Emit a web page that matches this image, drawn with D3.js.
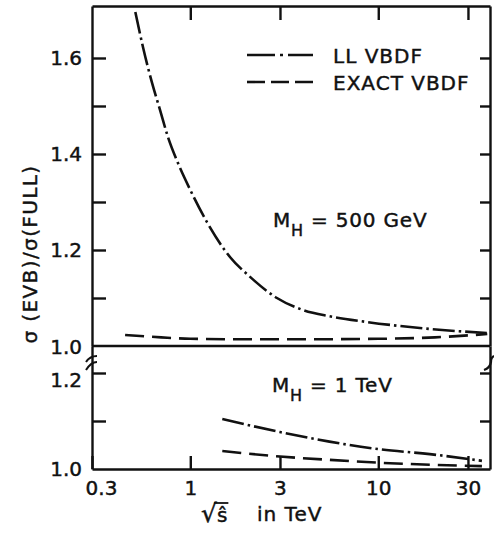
<!DOCTYPE html>
<html>
<head>
<meta charset="utf-8">
<script src="https://cdn.jsdelivr.net/npm/d3@7"></script>
<style>
  body { margin:0; background:#fff; }
  svg text { font-family:"DejaVu Sans", sans-serif; fill:#111; stroke:#111; stroke-width:0.45px; }
</style>
</head>
<body>
<div id="chart"></div>
<script>
// Datos (sqrt(s) en TeV, cociente sigma(EVB)/sigma(FULL))
const llUpperX    = [0.51, 0.56, 0.626, 0.69, 0.761, 0.86, 1.0, 1.227, 1.63, 2.08, 2.89, 3.98, 5.5, 8.7, 19.5, 37.8];
const llUpperY    = [1.696, 1.623, 1.548, 1.492, 1.435, 1.381, 1.325, 1.258, 1.185, 1.144, 1.10, 1.075, 1.062, 1.050, 1.035, 1.027];
const exactUpperX = [0.45, 0.7, 1.0, 2.0, 4.0, 10, 20, 38];
const exactUpperY = [1.023, 1.018, 1.015, 1.014, 1.014, 1.015, 1.018, 1.025];
const llLowerX    = [1.48, 3.0, 5.5, 10.2, 18.8, 35.6];
const llLowerY    = [1.104, 1.077, 1.057, 1.041, 1.031, 1.017];
const exactLowerX = [1.48, 3.0, 5.5, 10.2, 18.8, 35.6];
const exactLowerY = [1.0375, 1.026, 1.019, 1.013, 1.009, 1.006];

const xTickValues = [0.3, 1, 3, 10, 30];
const xTickLabels = ['0.3', '1', '3', '10', '30'];
const upperTicks  = [1.1, 1.2, 1.3, 1.4, 1.5, 1.6];
const upperLabels = [1.2, 1.4, 1.6];
const lowerTicks  = [1.1, 1.2];
const lowerLabels = [1.2];

const width = 494, height = 536;
const svg = d3.select('#chart').append('svg')
  .attr('width', width).attr('height', height);

// Escalas
const x = d3.scaleLog().domain([0.3, 39.3]).range([92, 490]);
const yUp = d3.scaleLinear().domain([1.0, 1.7083]).range([346, 6]);
const yLo = d3.scaleLinear().domain([1.0, 1.25625]).range([469, 346]);

const AXW = 2.4;
function styleAxis(g){
  g.selectAll('path.domain').attr('stroke', '#111').attr('stroke-width', AXW);
  g.selectAll('.tick line').attr('stroke', '#111').attr('stroke-width', AXW);
  g.selectAll('.tick text').style('font-size', '20px').attr('fill', '#111');
}

// Eje izquierdo (panel superior)
const fmt = labels => d => labels.some(v => Math.abs(v - d) < 1e-6) ? d.toFixed(1) : '';
svg.append('g').attr('transform', 'translate(92,0)')
  .call(d3.axisLeft(yUp).tickValues(upperTicks).tickSizeInner(-14).tickSizeOuter(0)
    .tickPadding(10).tickFormat(fmt(upperLabels)))
  .call(styleAxis);
// Eje izquierdo (panel inferior)
svg.append('g').attr('transform', 'translate(92,0)')
  .call(d3.axisLeft(yLo).tickValues(lowerTicks).tickSizeInner(-14).tickSizeOuter(0)
    .tickPadding(10).tickFormat(fmt(lowerLabels)))
  .call(styleAxis)
  .selectAll('.tick text').attr('dy', '0.65em');

// Etiquetas 1.0 de cada panel
svg.append('text').attr('x', 82).attr('y', yUp(1.0)).attr('dy', '0.4em')
  .attr('text-anchor', 'end').style('font-size', '20px').text('1.0');
svg.append('text').attr('x', 82).attr('y', yLo(1.0)).attr('dy', '0.35em')
  .attr('text-anchor', 'end').style('font-size', '20px').text('1.0');

// Eje derecho
svg.append('g').attr('transform', 'translate(490,0)')
  .call(d3.axisRight(yUp).tickValues(upperTicks).tickSizeInner(-10).tickSizeOuter(0).tickFormat(''))
  .call(styleAxis);
svg.append('g').attr('transform', 'translate(490,0)')
  .call(d3.axisRight(yLo).tickValues(lowerTicks).tickSizeInner(-10).tickSizeOuter(0).tickFormat(''))
  .call(styleAxis);

// Eje inferior y superior
const xb = svg.append('g').attr('transform', 'translate(0,469)')
  .call(d3.axisBottom(x).tickValues(xTickValues).tickSizeInner(-13).tickSizeOuter(0)
    .tickPadding(12).tickFormat((d, i) => xTickLabels[i]))
  .call(styleAxis);
xb.selectAll('.tick text').filter(d => d === 0.3).attr('dx', 9);

svg.append('g').attr('transform', 'translate(0,6)')
  .call(d3.axisTop(x).tickValues(xTickValues.slice(1)).tickSizeInner(-14).tickSizeOuter(0).tickFormat(''))
  .call(styleAxis);

// Línea separadora entre paneles (1.0 del panel superior)
svg.append('line')
  .attr('x1', x.range()[0]).attr('x2', x.range()[1])
  .attr('y1', yUp(1.0)).attr('y2', yUp(1.0))
  .attr('stroke', '#111').attr('stroke-width', AXW);

// Marcas de corte del eje
svg.append('path').attr('d', 'M86,362 q4,-6 11,-6 M86,370 q5,-8 11,-8')
  .attr('fill', 'none').attr('stroke', '#111').attr('stroke-width', 2);
svg.append('path').attr('d', 'M484,370 q6,-2 7,-8 q0,-5 3,-6')
  .attr('fill', 'none').attr('stroke', '#111').attr('stroke-width', 2.2);

// Curvas
const LL_DASH = '22,4,2.5,4', EX_DASH = '19,8';
function drawCurve(xs, ys, yScale, dash){
  const pts = xs.map((v, i) => [v, ys[i]]);
  const line = d3.line().x(d => x(d[0])).y(d => yScale(d[1])).curve(d3.curveMonotoneX);
  svg.append('path').datum(pts)
    .attr('d', line)
    .attr('fill', 'none')
    .attr('stroke', '#111')
    .attr('stroke-width', 2.6)
    .attr('stroke-dasharray', dash);
}
drawCurve(llUpperX, llUpperY, yUp, LL_DASH);
drawCurve(exactUpperX, exactUpperY, yUp, EX_DASH);
drawCurve(llLowerX, llLowerY, yLo, LL_DASH);
drawCurve(exactLowerX, exactLowerY, yLo, EX_DASH);

// Leyenda
const legend = [
  {label:'LL VBDF', dash:'28,5,3,5,28', y:55},
  {label:'EXACT VBDF', dash:'18,6', y:82}
];
legend.forEach(l => {
  svg.append('line').attr('x1', 247).attr('x2', 313).attr('y1', l.y).attr('y2', l.y)
    .attr('stroke', '#111').attr('stroke-width', 2.6).attr('stroke-dasharray', l.dash);
  svg.append('text').attr('x', 333).attr('y', l.y + 8)
    .style('font-size', '20px').style('letter-spacing', '1px').text(l.label);
});

// Anotaciones de masa del Higgs
function massLabel(xp, yp, rest){
  const t = svg.append('text').attr('x', xp).attr('y', yp)
    .style('font-size', '20px').style('letter-spacing', '0.8px');
  t.append('tspan').text('M');
  t.append('tspan').attr('dy', 9).style('font-size', '16px').text('H');
  t.append('tspan').attr('dy', -9).text(' ' + rest);
}
massLabel(273, 227, '= 500 GeV');
massLabel(272, 392, '=  1  TeV');

// Título del eje Y
svg.append('text')
  .attr('transform', 'translate(37,254) rotate(-90)')
  .attr('text-anchor', 'middle')
  .style('font-size', '20px').style('letter-spacing', '1.4px')
  .text('σ (EVB)/σ(FULL)');

// Título del eje X: raíz de s con sombrero
const xt = svg.append('text').attr('x', 201).attr('y', 522).style('font-size', '20px');
xt.append('tspan').style('font-size', '25px').text('√');
xt.append('tspan').text('ŝ');
svg.append('text').attr('x', 257).attr('y', 521).style('font-size', '20px')
  .style('letter-spacing', '1px').text('in TeV');
const n = xt.node();
const s0 = n.getStartPositionOfChar(1).x, s1 = n.getEndPositionOfChar(1).x;
svg.append('line').attr('x1', s0 - 3).attr('x2', s1 + 1).attr('y1', 503).attr('y2', 503)
  .attr('stroke', '#111').attr('stroke-width', 1.8);
</script>
</body>
</html>
